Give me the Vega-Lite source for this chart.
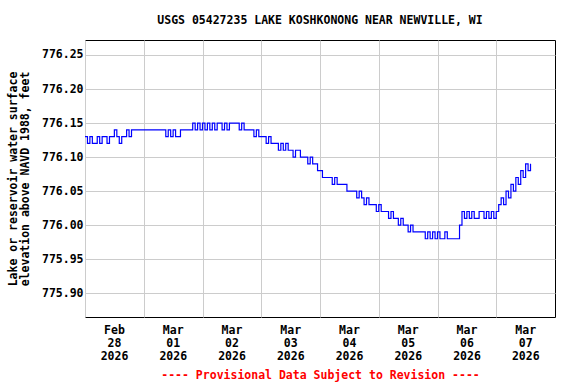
{
  "$schema": "https://vega.github.io/schema/vega-lite/v6.json",
  "width": 470,
  "height": 277,
  "autosize": {"type": "none"},
  "padding": {"left": 85, "top": 40, "right": 21, "bottom": 67},
  "background": "white",
  "title": {
    "text": "USGS 05427235 LAKE KOSHKONONG NEAR NEWVILLE, WI",
    "font": "DejaVu Sans Mono",
    "fontSize": 11.5,
    "fontWeight": "bold",
    "color": "black",
    "anchor": "middle",
    "offset": 14
  },
  "config": {
    "view": {"stroke": "black", "strokeWidth": 1},
    "font": "DejaVu Sans Mono"
  },
  "data": {
    "values": [
      {"t": "2026-02-28T00:00", "v": 776.13}, {"t": "2026-02-28T01:00", "v": 776.12}, {"t": "2026-02-28T02:00", "v": 776.13}, {"t": "2026-02-28T03:00", "v": 776.12},
      {"t": "2026-02-28T04:00", "v": 776.12}, {"t": "2026-02-28T05:00", "v": 776.13}, {"t": "2026-02-28T06:00", "v": 776.12}, {"t": "2026-02-28T07:00", "v": 776.13},
      {"t": "2026-02-28T08:00", "v": 776.13}, {"t": "2026-02-28T09:00", "v": 776.12}, {"t": "2026-02-28T10:00", "v": 776.13}, {"t": "2026-02-28T11:00", "v": 776.13},
      {"t": "2026-02-28T12:00", "v": 776.14}, {"t": "2026-02-28T13:00", "v": 776.13}, {"t": "2026-02-28T14:00", "v": 776.12}, {"t": "2026-02-28T15:00", "v": 776.13},
      {"t": "2026-02-28T16:00", "v": 776.13}, {"t": "2026-02-28T17:00", "v": 776.14}, {"t": "2026-02-28T18:00", "v": 776.13}, {"t": "2026-02-28T19:00", "v": 776.14},
      {"t": "2026-02-28T20:00", "v": 776.14}, {"t": "2026-02-28T21:00", "v": 776.14}, {"t": "2026-02-28T22:00", "v": 776.14}, {"t": "2026-02-28T23:00", "v": 776.14},
      {"t": "2026-03-01T00:00", "v": 776.14}, {"t": "2026-03-01T01:00", "v": 776.14}, {"t": "2026-03-01T02:00", "v": 776.14}, {"t": "2026-03-01T03:00", "v": 776.14},
      {"t": "2026-03-01T04:00", "v": 776.14}, {"t": "2026-03-01T05:00", "v": 776.14}, {"t": "2026-03-01T06:00", "v": 776.14}, {"t": "2026-03-01T07:00", "v": 776.14},
      {"t": "2026-03-01T08:00", "v": 776.14}, {"t": "2026-03-01T09:00", "v": 776.13}, {"t": "2026-03-01T10:00", "v": 776.14}, {"t": "2026-03-01T11:00", "v": 776.13},
      {"t": "2026-03-01T12:00", "v": 776.14}, {"t": "2026-03-01T13:00", "v": 776.13}, {"t": "2026-03-01T14:00", "v": 776.13}, {"t": "2026-03-01T15:00", "v": 776.14},
      {"t": "2026-03-01T16:00", "v": 776.14}, {"t": "2026-03-01T17:00", "v": 776.14}, {"t": "2026-03-01T18:00", "v": 776.14}, {"t": "2026-03-01T19:00", "v": 776.14},
      {"t": "2026-03-01T20:00", "v": 776.15}, {"t": "2026-03-01T21:00", "v": 776.14}, {"t": "2026-03-01T22:00", "v": 776.15}, {"t": "2026-03-01T23:00", "v": 776.14},
      {"t": "2026-03-02T00:00", "v": 776.15}, {"t": "2026-03-02T01:00", "v": 776.14}, {"t": "2026-03-02T02:00", "v": 776.15}, {"t": "2026-03-02T03:00", "v": 776.14},
      {"t": "2026-03-02T04:00", "v": 776.15}, {"t": "2026-03-02T05:00", "v": 776.14}, {"t": "2026-03-02T06:00", "v": 776.15}, {"t": "2026-03-02T07:00", "v": 776.15},
      {"t": "2026-03-02T08:00", "v": 776.14}, {"t": "2026-03-02T09:00", "v": 776.15}, {"t": "2026-03-02T10:00", "v": 776.14}, {"t": "2026-03-02T11:00", "v": 776.15},
      {"t": "2026-03-02T12:00", "v": 776.15}, {"t": "2026-03-02T13:00", "v": 776.15}, {"t": "2026-03-02T14:00", "v": 776.15}, {"t": "2026-03-02T15:00", "v": 776.14},
      {"t": "2026-03-02T16:00", "v": 776.15}, {"t": "2026-03-02T17:00", "v": 776.14}, {"t": "2026-03-02T18:00", "v": 776.14}, {"t": "2026-03-02T19:00", "v": 776.14},
      {"t": "2026-03-02T20:00", "v": 776.14}, {"t": "2026-03-02T21:00", "v": 776.13}, {"t": "2026-03-02T22:00", "v": 776.14}, {"t": "2026-03-02T23:00", "v": 776.13},
      {"t": "2026-03-03T00:00", "v": 776.13}, {"t": "2026-03-03T01:00", "v": 776.13}, {"t": "2026-03-03T02:00", "v": 776.12}, {"t": "2026-03-03T03:00", "v": 776.13},
      {"t": "2026-03-03T04:00", "v": 776.12}, {"t": "2026-03-03T05:00", "v": 776.12}, {"t": "2026-03-03T06:00", "v": 776.12}, {"t": "2026-03-03T07:00", "v": 776.11},
      {"t": "2026-03-03T08:00", "v": 776.12}, {"t": "2026-03-03T09:00", "v": 776.11}, {"t": "2026-03-03T10:00", "v": 776.12}, {"t": "2026-03-03T11:00", "v": 776.11},
      {"t": "2026-03-03T12:00", "v": 776.11}, {"t": "2026-03-03T13:00", "v": 776.10}, {"t": "2026-03-03T14:00", "v": 776.11}, {"t": "2026-03-03T15:00", "v": 776.11},
      {"t": "2026-03-03T16:00", "v": 776.10}, {"t": "2026-03-03T17:00", "v": 776.10}, {"t": "2026-03-03T18:00", "v": 776.10}, {"t": "2026-03-03T19:00", "v": 776.09},
      {"t": "2026-03-03T20:00", "v": 776.10}, {"t": "2026-03-03T21:00", "v": 776.09}, {"t": "2026-03-03T22:00", "v": 776.09}, {"t": "2026-03-03T23:00", "v": 776.08},
      {"t": "2026-03-04T00:00", "v": 776.08}, {"t": "2026-03-04T01:00", "v": 776.07}, {"t": "2026-03-04T02:00", "v": 776.07}, {"t": "2026-03-04T03:00", "v": 776.07},
      {"t": "2026-03-04T04:00", "v": 776.07}, {"t": "2026-03-04T05:00", "v": 776.06}, {"t": "2026-03-04T06:00", "v": 776.07}, {"t": "2026-03-04T07:00", "v": 776.06},
      {"t": "2026-03-04T08:00", "v": 776.06}, {"t": "2026-03-04T09:00", "v": 776.06}, {"t": "2026-03-04T10:00", "v": 776.06}, {"t": "2026-03-04T11:00", "v": 776.05},
      {"t": "2026-03-04T12:00", "v": 776.05}, {"t": "2026-03-04T13:00", "v": 776.05}, {"t": "2026-03-04T14:00", "v": 776.05}, {"t": "2026-03-04T15:00", "v": 776.04},
      {"t": "2026-03-04T16:00", "v": 776.05}, {"t": "2026-03-04T17:00", "v": 776.04}, {"t": "2026-03-04T18:00", "v": 776.03}, {"t": "2026-03-04T19:00", "v": 776.04},
      {"t": "2026-03-04T20:00", "v": 776.03}, {"t": "2026-03-04T21:00", "v": 776.03}, {"t": "2026-03-04T22:00", "v": 776.03}, {"t": "2026-03-04T23:00", "v": 776.02},
      {"t": "2026-03-05T00:00", "v": 776.03}, {"t": "2026-03-05T01:00", "v": 776.02}, {"t": "2026-03-05T02:00", "v": 776.02}, {"t": "2026-03-05T03:00", "v": 776.02},
      {"t": "2026-03-05T04:00", "v": 776.01}, {"t": "2026-03-05T05:00", "v": 776.02}, {"t": "2026-03-05T06:00", "v": 776.01}, {"t": "2026-03-05T07:00", "v": 776.01},
      {"t": "2026-03-05T08:00", "v": 776.00}, {"t": "2026-03-05T09:00", "v": 776.01}, {"t": "2026-03-05T10:00", "v": 776.00}, {"t": "2026-03-05T11:00", "v": 776.00},
      {"t": "2026-03-05T12:00", "v": 775.99}, {"t": "2026-03-05T13:00", "v": 776.00}, {"t": "2026-03-05T14:00", "v": 775.99}, {"t": "2026-03-05T15:00", "v": 775.99},
      {"t": "2026-03-05T16:00", "v": 775.99}, {"t": "2026-03-05T17:00", "v": 775.99}, {"t": "2026-03-05T18:00", "v": 775.99}, {"t": "2026-03-05T19:00", "v": 775.98},
      {"t": "2026-03-05T20:00", "v": 775.99}, {"t": "2026-03-05T21:00", "v": 775.98}, {"t": "2026-03-05T22:00", "v": 775.99}, {"t": "2026-03-05T23:00", "v": 775.98},
      {"t": "2026-03-06T00:00", "v": 775.99}, {"t": "2026-03-06T01:00", "v": 775.98}, {"t": "2026-03-06T02:00", "v": 775.98}, {"t": "2026-03-06T03:00", "v": 775.99},
      {"t": "2026-03-06T04:00", "v": 775.98}, {"t": "2026-03-06T05:00", "v": 775.98}, {"t": "2026-03-06T06:00", "v": 775.98}, {"t": "2026-03-06T07:00", "v": 775.98},
      {"t": "2026-03-06T08:00", "v": 775.98}, {"t": "2026-03-06T09:00", "v": 776.00}, {"t": "2026-03-06T10:00", "v": 776.02}, {"t": "2026-03-06T11:00", "v": 776.01},
      {"t": "2026-03-06T12:00", "v": 776.02}, {"t": "2026-03-06T13:00", "v": 776.01}, {"t": "2026-03-06T14:00", "v": 776.02}, {"t": "2026-03-06T15:00", "v": 776.01},
      {"t": "2026-03-06T16:00", "v": 776.01}, {"t": "2026-03-06T17:00", "v": 776.02}, {"t": "2026-03-06T18:00", "v": 776.02}, {"t": "2026-03-06T19:00", "v": 776.01},
      {"t": "2026-03-06T20:00", "v": 776.02}, {"t": "2026-03-06T21:00", "v": 776.01}, {"t": "2026-03-06T22:00", "v": 776.02}, {"t": "2026-03-06T23:00", "v": 776.01},
      {"t": "2026-03-07T00:00", "v": 776.02}, {"t": "2026-03-07T01:00", "v": 776.03}, {"t": "2026-03-07T02:00", "v": 776.04}, {"t": "2026-03-07T03:00", "v": 776.03},
      {"t": "2026-03-07T04:00", "v": 776.05}, {"t": "2026-03-07T05:00", "v": 776.04}, {"t": "2026-03-07T06:00", "v": 776.06}, {"t": "2026-03-07T07:00", "v": 776.05},
      {"t": "2026-03-07T08:00", "v": 776.07}, {"t": "2026-03-07T09:00", "v": 776.06}, {"t": "2026-03-07T10:00", "v": 776.08}, {"t": "2026-03-07T11:00", "v": 776.07},
      {"t": "2026-03-07T12:00", "v": 776.09}, {"t": "2026-03-07T13:00", "v": 776.08}, {"t": "2026-03-07T14:00", "v": 776.09}
    ]
  },
  "mark": {"type": "line", "interpolate": "step-after", "color": "#0000ff", "strokeWidth": 1.2, "clip": true},
  "encoding": {
    "x": {
      "field": "t",
      "type": "temporal",
      "scale": {"domain": [{"year": 2026, "month": "Feb", "date": 28}, {"year": 2026, "month": "Mar", "date": 8}]},
      "axis": {
        "values": [
          {"year": 2026, "month": "Feb", "date": 28},
          {"year": 2026, "month": "Mar", "date": 1},
          {"year": 2026, "month": "Mar", "date": 2},
          {"year": 2026, "month": "Mar", "date": 3},
          {"year": 2026, "month": "Mar", "date": 4},
          {"year": 2026, "month": "Mar", "date": 5},
          {"year": 2026, "month": "Mar", "date": 6},
          {"year": 2026, "month": "Mar", "date": 7}
        ],
        "labelExpr": "[timeFormat(datum.value, '%b'), timeFormat(datum.value, '%d'), timeFormat(datum.value, '%Y')]",
        "labelOffset": 29,
        "labelAlign": "center",
        "labelBaseline": "top",
        "labelLineHeight": 13,
        "labelPadding": 7,
        "labelFlush": false,
        "labelOverlap": false,
        "labelFont": "DejaVu Sans Mono",
        "labelFontSize": 11.5,
        "labelFontWeight": "bold",
        "labelColor": "black",
        "ticks": false,
        "domain": false,
        "grid": true,
        "gridColor": "#cccccc",
        "gridWidth": 1,
        "gridOpacity": 1,
        "title": "---- Provisional Data Subject to Revision ----",
        "titleColor": "#ff0000",
        "titleFont": "DejaVu Sans Mono",
        "titleFontSize": 11.5,
        "titleFontWeight": "bold",
        "titlePadding": 8
      }
    },
    "y": {
      "field": "v",
      "type": "quantitative",
      "scale": {"domain": [775.865, 776.272], "zero": false, "nice": false},
      "axis": {
        "values": [775.9, 775.95, 776.0, 776.05, 776.1, 776.15, 776.2, 776.25],
        "format": ".2f",
        "labelPadding": 2,
        "labelFont": "DejaVu Sans Mono",
        "labelFontSize": 11.5,
        "labelFontWeight": "bold",
        "labelColor": "black",
        "ticks": false,
        "domain": false,
        "grid": true,
        "gridColor": "#cccccc",
        "gridWidth": 1,
        "gridOpacity": 1,
        "title": ["Lake or reservoir water surface", "elevation above NAVD 1988, feet"],
        "titleFont": "DejaVu Sans Mono",
        "titleFontSize": 11.5,
        "titleFontWeight": "bold",
        "titleColor": "black",
        "titleLineHeight": 12,
        "titlePadding": 11
      }
    }
  }
}
